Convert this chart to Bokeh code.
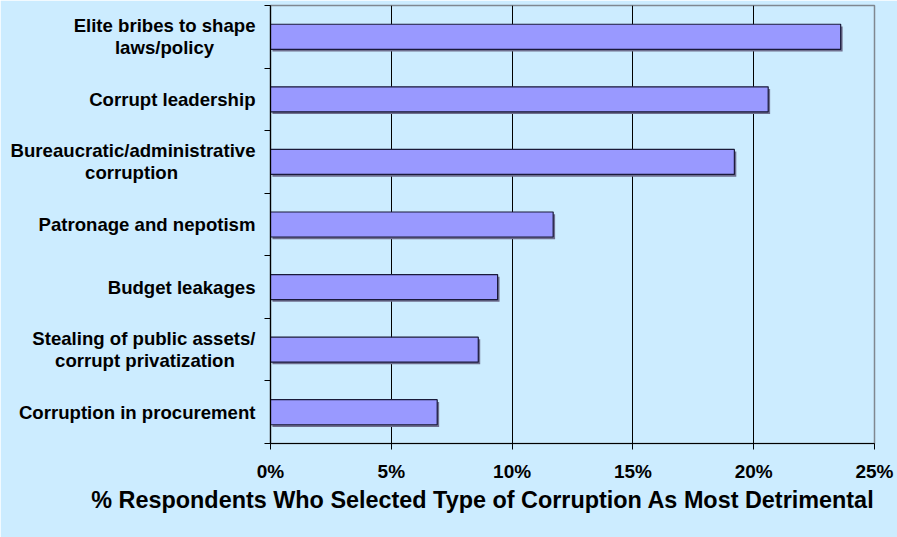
from bokeh.plotting import figure
from bokeh.models import FixedTicker, PrintfTickFormatter, Title
from bokeh.embed import file_html
from bokeh.resources import INLINE

NB = "\u00a0"
# Data (top to bottom in the reference)
categories = [
    "Elite bribes to shape\nlaws/policy" + NB * 8,
    "Corrupt leadership",
    "Bureaucratic/administrative\ncorruption" + NB * 15,
    "Patronage and nepotism",
    "Budget leakages",
    "Stealing of public assets/\ncorrupt privatization" + NB * 4,
    "Corruption in procurement",
]
values = [23.6, 20.6, 19.2, 11.7, 9.4, 8.6, 6.9]
x_ticks = [0, 5, 10, 15, 20, 25]
title_text = "% Respondents Who Selected Type of Corruption As Most Detrimental"

n = len(categories)
ys = [n - 1 - i + 0.5 for i in range(n)]

BG = "#CCECFF"
FONT = "Liberation Sans"

p = figure(width=897, height=537, output_backend="svg", toolbar_location=None,
           x_range=(0, 25), y_range=(0, n),
           min_border_left=270, min_border_right=23, min_border_top=5,
           min_border_bottom=94)
p.background_fill_color = BG
p.border_fill_color = BG
p.outline_line_color = "#7F8790"
p.outline_line_width = 1.5

# shadow
p.hbar(y=[y - 0.035 for y in ys], left=0.08, right=[v + 0.08 for v in values],
       height=0.4, fill_color="#6E6E8E", line_color=None)
p.hbar(y=ys, left=0, right=values, height=0.4,
       fill_color="#9999FF", line_color="#1A1A3A", line_width=1.2)

p.xgrid.ticker = FixedTicker(ticks=x_ticks[1:-1])
p.xgrid.grid_line_color = "black"
p.xgrid.grid_line_width = 1
p.xgrid.level = "underlay"
p.ygrid.grid_line_color = None

xa = p.xaxis[0]
xa.ticker = FixedTicker(ticks=x_ticks)
xa.formatter = PrintfTickFormatter(format="%d%%")
xa.axis_line_color = "black"
xa.axis_line_width = 1.2
xa.major_tick_out = 6
xa.major_tick_in = 0
xa.minor_tick_line_color = None
xa.major_label_standoff = 11
xa.major_label_text_font = FONT
xa.major_label_text_font_style = "bold"
xa.major_label_text_font_size = "19px"
xa.major_label_text_color = "black"

ya = p.yaxis[0]
ya.ticker = FixedTicker(ticks=ys, minor_ticks=list(range(n + 1)))
ya.major_label_overrides = {y: c for y, c in zip(ys, categories)}
ya.axis_line_color = "black"
ya.axis_line_width = 1.2
ya.major_tick_line_color = None
ya.major_tick_out = 0
ya.major_tick_in = 0
ya.minor_tick_line_color = "black"
ya.minor_tick_out = 6
ya.minor_tick_in = 0
ya.major_label_standoff = 9
ya.major_label_text_font = FONT
ya.major_label_text_font_style = "bold"
ya.major_label_text_font_size = "18.6px"
ya.major_label_text_line_height = 1.05
ya.major_label_text_color = "black"

t = Title(text=title_text, align="right", text_font=FONT, text_font_style="bold",
          text_font_size="23.4px", text_color="black", standoff=0)
p.add_layout(t, "below")

open("out.html", "w").write(file_html(p, INLINE))
